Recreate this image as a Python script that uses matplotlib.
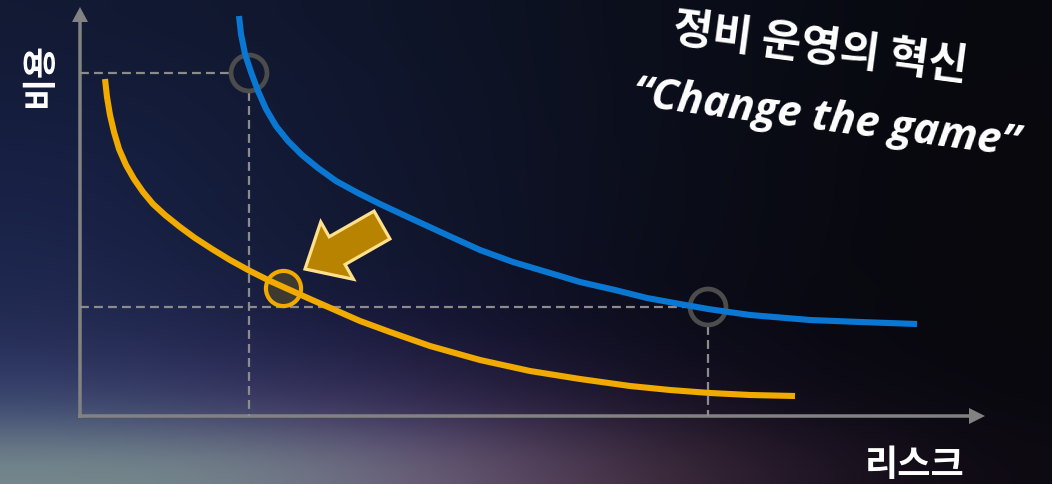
import numpy as np
import matplotlib
matplotlib.use("Agg")
import matplotlib.pyplot as plt
from matplotlib.colors import to_rgb

# ---------------- data (diagram units, origin at the axes corner) ----------------
blue_x = [159, 161, 165, 171, 178, 186, 196, 208, 222, 238, 256, 278, 300, 330,
          367, 400, 433, 470, 500, 535, 567, 600, 628, 670, 730, 780, 837]
blue_y = [400, 382, 362, 344, 325, 307, 290, 275, 261, 248, 235, 223, 212, 198,
          181, 166, 154, 143, 134, 126, 118, 112, 107, 101, 96, 94, 92]

orange_x = [25, 27, 30, 34, 39, 46, 54, 63, 73, 85, 100, 115, 132, 150, 170, 190,
            210, 230, 255, 280, 310, 350, 400, 450, 500, 550, 590, 630, 670, 715]
orange_y = [337, 319, 301, 284, 267, 251, 237, 224, 212, 201, 189, 178, 167, 156,
            145, 135, 126, 117, 106, 95, 84, 70, 56, 45, 37, 30, 26, 23, 21, 20]

before_pts_x = [169, 628]      # gray circles on the blue curve
before_pts_y = [343, 109]
after_pt_x = [203]             # orange circle on the orange curve
after_pt_y = [128]

y_label = "비용"
x_label = "리스크"
title_1 = "정비 운영의 혁신"
title_2 = "\u201cChange the game\u201d"

# ---------------- styling ----------------
BLUE = "#0a78d2"
ORANGE = "#f0aa00"
GRAY_AX = "#828282"
GRAY_DASH = "#8c8c8c"
GRAY_CIRC = "#4c4c4c"

W, H = 1052, 485
fig = plt.figure(figsize=(W / 100, H / 100), dpi=100)
ax = fig.add_axes([0, 0, 1, 1])
X0, Y0 = -80, -68
ax.set_xlim(X0, X0 + W)
ax.set_ylim(Y0, Y0 + H)
ax.axis("off")

# background gradient (space + horizon glow)
rows = [
    ["#121a34", "#111830", "#0f152a", "#0d1222", "#0b0e1a", "#090b14", "#08090f"],
    ["#141c3a", "#121a34", "#10162c", "#0d1223", "#0b0e1a", "#090b13", "#08090e"],
    ["#161e40", "#131b38", "#11162e", "#0d1224", "#0b0e1a", "#090a12", "#08080e"],
    ["#182144", "#141c3a", "#11172f", "#0e1224", "#0b0d19", "#090a12", "#08080d"],
    ["#1a2348", "#151d3c", "#121830", "#0e1225", "#0b0d19", "#090a12", "#08080d"],
    ["#1d264c", "#171f40", "#131933", "#0f1226", "#0b0c18", "#090a11", "#08080d"],
    ["#222b52", "#1d2248", "#18183a", "#11122a", "#0c0c1a", "#0a0912", "#08080d"],
    ["#2c3560", "#2a2c58", "#252448", "#1a1632", "#100e1e", "#0b0a14", "#09080e"],
    ["#404c74", "#40406a", "#3e3460", "#2e2444", "#1c1428", "#100c18", "#0a0910"],
    ["#76898d", "#74848b", "#6e6a82", "#5a4662", "#3a2838", "#1e1424", "#0e0a12"],
]
bg = np.array([[to_rgb(c) for c in r] for r in rows])
ax.imshow(bg, extent=(X0, X0 + W, Y0, Y0 + H), origin="upper",
          interpolation="bicubic", aspect="auto", zorder=0)

# axes with arrow heads
ax.arrow(0, -2, 0, 411, width=3.5, head_width=16, head_length=15,
         length_includes_head=True, color=GRAY_AX, lw=0, zorder=2)
ax.arrow(-2, 0, 907, 0, width=3.5, head_width=16, head_length=16,
         length_includes_head=True, color=GRAY_AX, lw=0, zorder=2)

# dashed guide lines (stop at circle edge)
r = 19
dash = dict(color=GRAY_DASH, lw=1.6, dashes=(4.0, 2.3), zorder=2)
ax.plot([0, before_pts_x[0] - r], [before_pts_y[0]] * 2, **dash)
ax.plot([before_pts_x[0]] * 2, [before_pts_y[0] - r, 0], **dash)
ax.plot([0, before_pts_x[1] - r], [before_pts_y[1]] * 2, **dash)
ax.plot([before_pts_x[1]] * 2, [before_pts_y[1] - r, 0], **dash)

# curves
ax.plot(blue_x, blue_y, color=BLUE, lw=4.4, solid_capstyle="butt",
        solid_joinstyle="round", zorder=4)
ax.plot(orange_x, orange_y, color=ORANGE, lw=4.4, solid_capstyle="butt",
        solid_joinstyle="round", zorder=4)

# circles
ax.scatter(before_pts_x, before_pts_y, s=670, facecolors="none",
           edgecolors=GRAY_CIRC, linewidths=3.4, zorder=3)
ax.scatter(after_pt_x, after_pt_y, s=640, facecolors="#3f3a30",
           edgecolors=ORANGE, linewidths=3.0, zorder=3)

# improvement arrow
ax.arrow(302, 191, -77, -44, width=32, head_width=66, head_length=37,
         length_includes_head=True, fc="#b88400", ec="#ffe08c", lw=2.3,
         joinstyle="miter", zorder=5)

# texts
ko = ["Noto Sans CJK KR", "DejaVu Sans"]
ax.text(-40, 342, y_label, rotation=90, ha="center", va="center",
        color="white", fontsize=25, fontweight="bold", family=ko, zorder=6)
ax.text(835, -49, x_label, ha="center", va="center",
        color="white", fontsize=26, fontweight="bold", family=ko, zorder=6)
ax.text(740, 369, title_1, rotation=-7.5, ha="center", va="center",
        rotation_mode="anchor", color="white", fontsize=31,
        fontweight="bold", family=ko, zorder=6)
ax.text(746, 298, title_2, rotation=-7.5, ha="center", va="center",
        rotation_mode="anchor", color="white", fontsize=31,
        fontweight="bold", style="italic",
        family=["Open Sans", "Noto Sans", "DejaVu Sans"], zorder=6)

fig.savefig("out.png", dpi=100)
